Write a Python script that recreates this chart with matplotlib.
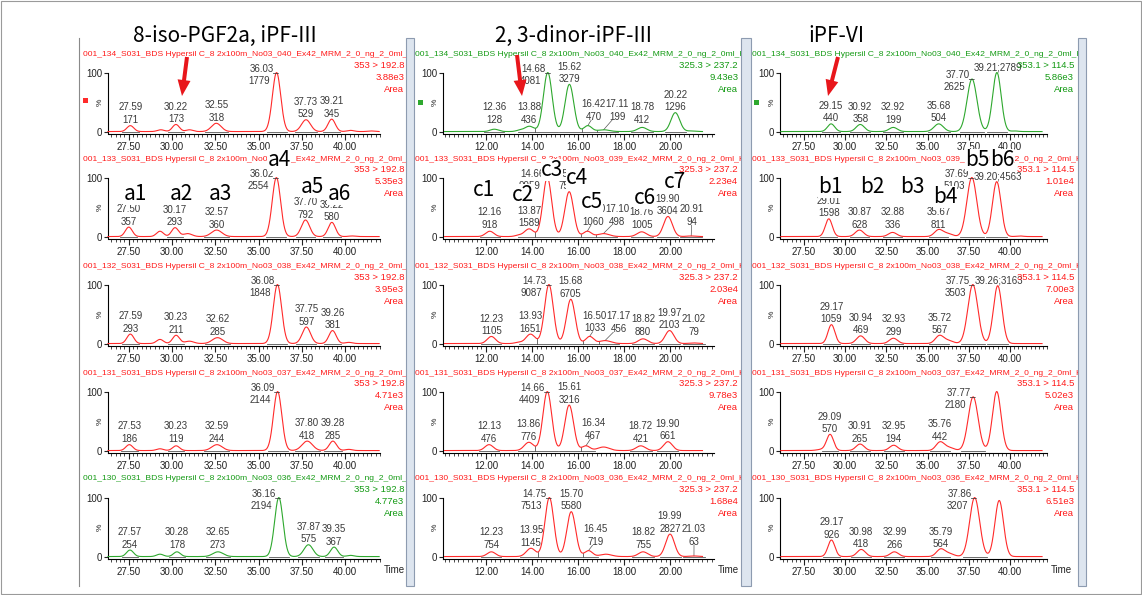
import numpy as np
import matplotlib
matplotlib.use('Agg')
import matplotlib.pyplot as plt
from matplotlib.patches import Rectangle, FancyArrow
from matplotlib.ticker import MultipleLocator, FixedLocator, FormatStrFormatter

# ---------------- data ----------------
titles = ['8-iso-PGF2a, iPF-III', '2, 3-dinor-iPF-III', 'iPF-VI']
transitions = ['353 > 192.8', '325.3 > 237.2', '353.1 > 114.5']
sample_ids = ['134', '133', '132', '131', '130']
sample_nos = ['040', '039', '038', '037', '036']
intensities = [
    ['3.88e3', '5.35e3', '3.95e3', '4.71e3', '4.77e3'],
    ['9.43e3', '2.23e4', '2.03e4', '9.78e3', '1.68e4'],
    ['5.86e3', '1.01e4', '7.00e3', '5.02e3', '6.51e3'],
]
trace_colors = [
    ['r', 'r', 'r', 'r', 'g'],
    ['g', 'r', 'r', 'r', 'r'],
    ['g', 'r', 'r', 'r', 'r'],
]
x_major = [
    [27.5, 30.0, 32.5, 35.0, 37.5, 40.0],
    [12.0, 14.0, 16.0, 18.0, 20.0],
    [27.5, 30.0, 32.5, 35.0, 37.5, 40.0],
]
peak_tags = [
    ['a1', 'a2', 'a3', 'a4', 'a5', 'a6'],
    ['c1', 'c2', 'c3', 'c4', 'c5', 'c6', 'c7'],
    ['b1', 'b2', 'b3', 'b4', 'b5', 'b6'],
]

# peaks: (retention time [min], height [%], width sigma [min], area label)
iso_peaks = [
    [(27.59, 10, 0.20, '171'), (29.35, 3, 0.20, None), (30.22, 12, 0.20, '173'),
     (31.00, 3, 0.20, None), (32.55, 14, 0.28, '318'), (36.03, 100, 0.24, '1779'),
     (37.73, 20, 0.26, '529'), (39.21, 21, 0.21, '345'), (40.30, 2, 0.20, None),
     (41.50, 1, 0.20, None)],
    [(27.50, 16, 0.20, '357'), (29.30, 9, 0.20, None), (30.17, 15, 0.20, '293'),
     (30.90, 5, 0.25, None), (32.57, 11, 0.30, '360'), (36.02, 100, 0.24, '2554'),
     (37.70, 28, 0.24, '792'), (39.22, 24, 0.21, '580'), (40.40, 1, 0.20, None)],
    [(27.59, 16, 0.20, '293'), (29.30, 7, 0.20, None), (30.23, 14, 0.20, '211'),
     (31.00, 4, 0.25, None), (32.62, 10, 0.30, '285'), (36.08, 100, 0.24, '1848'),
     (37.75, 28, 0.24, '597'), (39.26, 22, 0.21, '381'), (40.20, 2, 0.20, None)],
    [(27.53, 10, 0.20, '186'), (29.30, 3, 0.20, None), (30.23, 8, 0.20, '119'),
     (32.59, 10, 0.30, '244'), (36.09, 100, 0.24, '2144'), (37.80, 16, 0.30, '418'),
     (39.28, 16, 0.21, '285'), (40.20, 2, 0.20, None)],
    [(27.57, 11, 0.20, '254'), (29.30, 4, 0.20, None), (30.28, 8, 0.20, '178'),
     (32.65, 8, 0.30, '273'), (36.16, 100, 0.24, '2194'), (37.87, 20, 0.26, '575'),
     (39.35, 16, 0.21, '367'), (40.30, 2, 0.20, None)],
]

dinor_peaks = [
    [(12.36, 4, 0.18, '128'), (13.45, 2, 0.15, None), (13.88, 9, 0.20, '436'),
     (14.68, 100, 0.19, '4081'), (15.62, 80, 0.19, '3279'), (16.42, 10, 0.17, '470'),
     (17.11, 3, 0.25, '199'), (18.78, 7, 0.20, '412'), (20.22, 32, 0.19, '1296'),
     (20.90, 1, 0.20, None)],
    [(12.16, 9, 0.18, '918'), (13.40, 2, 0.15, None), (13.87, 13, 0.20, '1589'),
     (14.66, 100, 0.19, '9959'), (15.61, 76, 0.19, '7592'), (16.40, 9, 0.17, '1060'),
     (17.10, 5, 0.25, '498'), (18.76, 8, 0.20, '1005'), (19.90, 34, 0.19, '3604'),
     (20.91, 1, 0.20, '94')],
    [(12.23, 12, 0.18, '1105'), (13.40, 2, 0.15, None), (13.93, 16, 0.20, '1651'),
     (14.73, 100, 0.19, '9087'), (15.68, 75, 0.19, '6705'), (16.50, 12, 0.17, '1033'),
     (17.17, 5, 0.25, '456'), (18.82, 8, 0.20, '880'), (19.97, 22, 0.19, '2103'),
     (21.02, 1, 0.20, '79')],
    [(12.13, 10, 0.18, '476'), (13.86, 14, 0.20, '776'), (14.66, 100, 0.19, '4409'),
     (15.61, 77, 0.19, '3216'), (16.34, 8, 0.17, '467'), (17.10, 6, 0.25, None),
     (18.72, 8, 0.20, '421'), (19.90, 15, 0.19, '661')],
    [(12.23, 8, 0.18, '754'), (13.95, 14, 0.20, '1145'), (14.75, 100, 0.19, '7513'),
     (15.70, 76, 0.19, '5580'), (16.45, 10, 0.17, '719'), (17.20, 4, 0.25, None),
     (18.82, 8, 0.20, '755'), (19.99, 38, 0.19, '2827'), (21.03, 1, 0.20, '63')],
]

ipf6_peaks = [
    [(29.15, 13, 0.22, '440'), (30.92, 12, 0.25, '358'), (32.92, 7, 0.25, '199'),
     (35.68, 13, 0.28, '504'), (37.70, 89, 0.30, '2625'), (39.21, 100, 0.26, '2789'),
     (40.30, 1, 0.20, None)],
    [(29.01, 30, 0.21, '1598'), (30.87, 11, 0.25, '628'), (32.88, 7, 0.25, '336'),
     (35.67, 11, 0.25, '811'), (36.20, 5, 0.30, None), (37.69, 100, 0.30, '5103'),
     (39.20, 93, 0.26, '4563'), (40.60, 1, 0.20, None)],
    [(29.17, 32, 0.21, '1059'), (30.94, 13, 0.25, '469'), (32.93, 9, 0.25, '299'),
     (35.72, 13, 0.25, '567'), (36.25, 5, 0.30, None), (37.75, 100, 0.30, '3503'),
     (39.26, 98, 0.26, '3163')],
    [(28.60, 2, 0.30, None), (29.09, 27, 0.21, '570'), (30.91, 11, 0.25, '265'),
     (32.95, 9, 0.25, '194'), (35.76, 14, 0.25, '442'), (36.30, 5, 0.30, None),
     (37.77, 91, 0.30, '2180'), (39.20, 100, 0.26, None)],
    [(29.17, 28, 0.21, '926'), (30.98, 12, 0.25, '418'), (32.99, 8, 0.25, '266'),
     (35.79, 12, 0.25, '564'), (36.30, 5, 0.30, None), (37.86, 100, 0.30, '3207'),
     (39.35, 95, 0.26, None)],
]

all_peaks = [iso_peaks, dinor_peaks, ipf6_peaks]

# ---------------- layout (pixels of the 1142x595 picture) ----------------
W, H = 1142, 595
NARROW = ['Liberation Sans Narrow', 'Liberation Sans', 'DejaVu Sans']
JP = ['Noto Sans CJK JP', 'DejaVu Sans']
plt.rcParams['font.family'] = NARROW

col_px = [(108, 380), (443, 714), (780, 1047)]
col_xlim = [(26.3, 42.0), (10.13, 21.9), (26.05, 42.25)]
col_trace = [(26.3, 41.95), (10.2, 21.4), (26.1, 41.95)]
col_minor = [0.25, 0.2, 0.25]
panel_px = [(80, 406), (414, 741), (751, 1078)]
right_txt_x = [404, 738, 1074]
row_top = [73, 178, 285, 392, 498]
row_h = 59

RED, GREEN = '#ff2a2a', '#2ea82e'
HRED, HGREEN = '#ff1a1a', '#139a13'
LBL = '#3a3a3a'
BASE = '#555555'


def px_box(x0, x1, y_top, y_bot):
    return [x0 / W, 1 - y_bot / H, (x1 - x0) / W, (y_bot - y_top) / H]


def ftext(x, y, s, **kw):
    return fig.text(x / W, 1 - y / H, s, **kw)


def label_peaks(ax, peaks, ppm):
    tall = 0
    prev = None
    for rt, h, s, area in peaks:
        if area is None:
            continue
        rt_txt = '%.2f' % rt
        if h >= 85:
            tall += 1
            if tall == 1:
                ax.annotate(rt_txt + '_', (rt, h + 9), xytext=(2, 0), textcoords='offset points',
                            ha='right', va='center', fontsize=7, color=LBL, annotation_clip=False)
                ax.annotate(area, (rt, h - 13), xytext=(-5, 0), textcoords='offset points',
                            ha='right', va='center', fontsize=7, color=LBL, annotation_clip=False)
            else:
                ax.annotate(rt_txt + ';' + area, (rt, h + 9), xytext=(1, 0), textcoords='offset points',
                            ha='center', va='center', fontsize=7, color=LBL, annotation_clip=False)
            prev = None
            continue
        low = max(h + 10, 21)
        shift = 0.0
        if prev is not None and (rt - prev) * ppm < 24:
            shift = 24 - (rt - prev) * ppm
            low += 5
            ax.plot([rt, rt + shift * 0.6 / ppm], [h + 1, low - 6], color=BASE, lw=0.5)
        for txt, yy in ((area, low), (rt_txt, low + 21)):
            ax.annotate(txt, (rt, yy), xytext=(shift * 0.72, 0), textcoords='offset points',
                        ha='center', va='center', fontsize=7, color=LBL, annotation_clip=False)
        prev = rt + shift / ppm


def integration_marks(ax, peaks, t, sig):
    # baseline under each labelled peak, with a drop line where it meets a neighbour
    lab = [p for p in peaks if p[3] is not None]
    for i, (rt, h, s, area) in enumerate(lab):
        a, b = rt - 2.4 * s, rt + 2.4 * s
        if i > 0:
            prt, _, ps, _ = lab[i - 1]
            if rt - prt < 2.4 * (s + ps):
                m = (t > prt) & (t < rt)
                a = t[m][np.argmin(sig[m])]
                ax.plot([a, a], [0, np.interp(a, t, sig)], color=BASE, lw=0.6, zorder=2)
        if i < len(lab) - 1:
            nrt, _, ns, _ = lab[i + 1]
            if nrt - rt < 2.4 * (s + ns):
                m = (t > rt) & (t < nrt)
                b = t[m][np.argmin(sig[m])]
        ax.plot([a, b], [0.4, 0.4], color=BASE, lw=0.6, zorder=2)


fig = plt.figure(figsize=(W / 100, H / 100), dpi=100)
fig.patch.set_facecolor('white')

# panel backgrounds carrying the clipped header lines
for c in range(3):
    p0, p1 = panel_px[c]
    pax = fig.add_axes(px_box(p0, p1, 38, 586))
    pax.set_xlim(p0, p1)
    pax.set_ylim(586, 38)
    pax.axis('off')
    start = p0 + 3 if c == 0 else p0 + 1
    for r in range(5):
        hcol = HRED if trace_colors[c][r] == 'r' else HGREEN
        header = ('001_%s_S031_BDS Hypersil C_8 2x100m_No03_%s_Ex42_MRM_2_0_ng_2_0ml_Kon'
                  % (sample_ids[r], sample_nos[r]))
        pax.text(start, row_top[r] - 19, header, fontsize=6.1, color=hcol,
                 ha='left', va='center', clip_on=True)

# chromatograms
for c in range(3):
    x0, x1 = col_px[c]
    lo, hi = col_xlim[c]
    ppm = (x1 - x0) / (hi - lo)
    for r in range(5):
        top = row_top[r]
        ax = fig.add_axes(px_box(x0, x1, top, top + row_h + 1.5))
        ax.set_facecolor('none')
        ax.set_xlim(lo, hi)
        ax.set_ylim(-2.5, 100)
        peaks = all_peaks[c][r]
        col = RED if trace_colors[c][r] == 'r' else GREEN
        hcol = HRED if trace_colors[c][r] == 'r' else HGREEN

        t = np.linspace(col_trace[c][0], col_trace[c][1], 1600)
        sig = np.full_like(t, 0.8)
        for rt, h, s, area in peaks:
            sig += h * np.exp(-0.5 * ((t - rt) / s) ** 2)
        ax.plot(t, sig, color=col, lw=0.8, clip_on=False, zorder=3)

        integration_marks(ax, peaks, t, sig)
        label_peaks(ax, peaks, ppm)

        for sp in ('top', 'right'):
            ax.spines[sp].set_visible(False)
        for sp in ('left', 'bottom'):
            ax.spines[sp].set_linewidth(0.8)
        ax.set_yticks([0, 100])
        ax.set_yticklabels(['0', '100'])
        ax.tick_params(axis='y', length=3, width=0.8, pad=1, labelsize=7, colors='#222222')
        ax.xaxis.set_major_locator(FixedLocator(x_major[c]))
        ax.xaxis.set_major_formatter(FormatStrFormatter('%.2f'))
        ax.xaxis.set_minor_locator(MultipleLocator(col_minor[c]))
        ax.tick_params(axis='x', which='major', length=4, width=0.8, pad=2, labelsize=7,
                       colors='#222222')
        ax.tick_params(axis='x', which='minor', length=2, width=0.5)
        ax.text(-0.03, 50, '%', transform=ax.get_yaxis_transform(), rotation=90,
                fontsize=6, ha='center', va='center', color='#222222')

        rx = right_txt_x[c]
        ftext(rx, top - 8, transitions[c], fontsize=6.8, color=hcol, ha='right', va='center')
        ftext(rx, top + 4, intensities[c][r], fontsize=6.8, color=hcol, ha='right', va='center')
        ftext(rx, top + 16, 'Area', fontsize=6.8, color=hcol, ha='right', va='center')
        if r == 4:
            ftext(x1 + 4, top + row_h + 13, 'Time', fontsize=7, color='#222222',
                  ha='left', va='center')

# overlay: frames, arrows, titles and peak tags
oax = fig.add_axes([0, 0, 1, 1])
oax.set_xlim(0, W)
oax.set_ylim(H, 0)
oax.axis('off')
oax.add_patch(Rectangle((1, 1), W - 2, H - 2, fill=False, ec='#9a9a9a', lw=0.8))
oax.plot([79, 79], [38, 586], color='#8a8a8a', lw=0.8)
for a, b in ((406, 414), (741, 751), (1078, 1086)):
    oax.add_patch(Rectangle((a, 38), b - a, 548, fc='#dde5ef', ec='#8d9bb0', lw=0.8))

marks = [((85, 100), RED), ((420, 102), GREEN), ((756, 102), GREEN)]
for (mx, my), mc in marks:
    oax.add_patch(Rectangle((mx - 2.5, my - 2.5), 5, 5, fc=mc, ec='none'))

arrows = [((187, 57), (182, 96)), ((517, 55), (522, 96)), ((838, 57), (828, 96))]
for (sx, sy), (tx, ty) in arrows:
    oax.add_patch(FancyArrow(sx, sy, tx - sx, ty - sy, width=4, head_width=13, head_length=16,
                             length_includes_head=True, fc='#e8161b', ec='none'))

title_pos = [(225, 36), (573, 36), (836, 36)]
for (tx, ty), s in zip(title_pos, titles):
    oax.text(tx, ty, s, family=JP, fontsize=15, ha='center', va='center', color='black')

tag_pos = [
    [(135, 194), (181, 194), (220, 194), (279, 160), (312, 187), (339, 194)],
    [(484, 190), (523, 195), (552, 170), (577, 178), (592, 202), (645, 198), (675, 182)],
    [(830, 187), (872, 187), (912, 187), (945, 197), (977, 160), (1002, 160)],
]
for c in range(3):
    for (tx, ty), s in zip(tag_pos[c], peak_tags[c]):
        oax.text(tx, ty, s, family=JP, fontsize=15, ha='center', va='center', color='black',
                 bbox=dict(fc='white', ec='none', pad=0.0), zorder=5)

fig.savefig('out.png', dpi=100)
